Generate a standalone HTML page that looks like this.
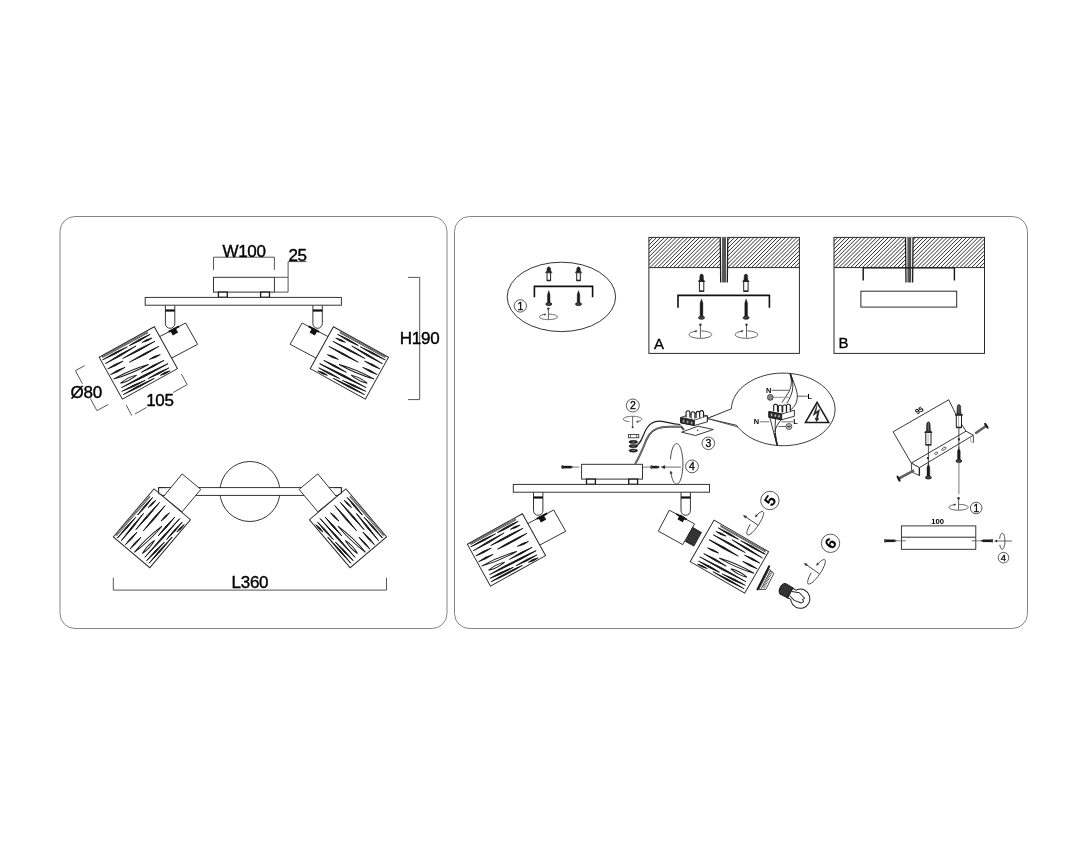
<!DOCTYPE html>
<html><head><meta charset="utf-8"><title>Installation diagram</title>
<style>
html,body{margin:0;padding:0;background:#fff;}
svg{display:block;will-change:transform;}
text{font-family:"Liberation Sans",sans-serif;fill:#000;}
</style></head>
<body>
<svg width="1088" height="846" viewBox="0 0 1088 846">
<rect x="0" y="0" width="1088" height="846" fill="#fff"/>
<defs><g id="shade">
<rect x="0" y="0" width="63" height="47.8" fill="#fff" stroke="#2a2a2a" stroke-width="0.95"/>
<line x1="2.7" y1="0.9" x2="54.9" y2="1.3" stroke="#2a2a2a" stroke-width="0.7"/>
<line x1="2.5" y1="1.9" x2="54.6" y2="2.2" stroke="#2a2a2a" stroke-width="0.7"/>
<path d="M1.8 3.9Q15.7 5.4 29.6 4.4Q15.7 2.8 1.8 3.9ZM32.3 4.4Q43.9 5.7 55.5 4.5Q43.9 3.1 32.3 4.4ZM2.4 8.6Q19.9 9.6 37.4 7.9Q19.9 7.0 2.4 8.6ZM45.0 7.8Q50.1 9.6 55.3 8.7Q50.3 7.0 45.0 7.8ZM20.2 12.5Q38.2 14.0 56.2 13.0Q38.2 11.4 20.2 12.5ZM2.0 14.3Q10.4 15.9 18.9 15.0Q10.5 13.3 2.0 14.3ZM24.2 19.0Q40.7 20.5 57.3 19.3Q40.7 17.9 24.2 19.0ZM1.7 20.6Q9.6 22.2 17.5 21.3Q9.7 19.6 1.7 20.6ZM42.9 26.2Q48.7 28.0 54.6 27.2Q48.9 25.4 42.9 26.2ZM29.6 33.6Q42.2 35.1 55.0 34.1Q42.3 32.5 29.6 33.6ZM4.9 37.3Q30.9 39.4 56.9 38.9Q31.0 36.8 4.9 37.3ZM3.4 40.8Q16.1 42.9 29.0 42.4Q16.2 40.3 3.4 40.8ZM32.4 42.4Q44.1 44.0 55.8 43.1Q44.1 41.4 32.4 42.4ZM3.0 44.3Q20.4 46.0 37.9 45.1Q20.5 43.4 3.0 44.3ZM44.8 45.4Q49.9 47.1 55.2 46.2Q50.1 44.5 44.8 45.4Z" fill="#161616" stroke="#161616" stroke-width="0.9" stroke-linejoin="round"/>
<path d="M1.9 26.0 Q20.5 30.3 39.6 30.2 Q21.0 25.9 1.9 26.0Z" fill="none" stroke="#1c1c1c" stroke-width="0.95"/>
<path d="M6.1 33.0 Q15.0 35.5 24.1 33.7 Q15.2 31.1 6.1 33.0Z" fill="none" stroke="#1c1c1c" stroke-width="0.95"/>
</g></defs>
<defs><g id="lampL">
<polygon points="158.9,337.0 185.6,323.0 197.6,344.3 171.2,358.3" fill="#fff" stroke="#2a2a2a" stroke-width="0.95" />
<use href="#shade" transform="translate(99.2,357.3) rotate(-29)"/>
<rect x="-3" y="-2.6" width="6" height="5.2" fill="#111" transform="translate(174.2,331.8) rotate(-29)"/>
<line x1="168.6" y1="331.9" x2="179.0" y2="326.4" stroke="#111" stroke-width="1.9" />
</g></defs>
<defs><g id="base">
<rect x="213.5" y="277.3" width="60.9" height="14.8" fill="#fff" stroke="#2a2a2a" stroke-width="0.95"/>
<rect x="218.4" y="292.1" width="8.9" height="5.2" fill="#fff" stroke="#1a1a1a" stroke-width="1.3"/>
<rect x="260.6" y="292.1" width="8.9" height="5.2" fill="#fff" stroke="#1a1a1a" stroke-width="1.3"/>
<path d="M165.4 305.2 V323.6 A4.7 4.7 0 0 0 174.8 323.6 V305.2" fill="#fff" stroke="#2a2a2a" stroke-width="0.95"/><line x1="165.4" y1="310.5" x2="174.8" y2="310.5" stroke="#111" stroke-width="2.2" />
<path d="M312.9 305.2 V323.6 A4.7 4.7 0 0 0 322.3 323.6 V305.2" fill="#fff" stroke="#2a2a2a" stroke-width="0.95"/><line x1="312.9" y1="310.5" x2="322.3" y2="310.5" stroke="#111" stroke-width="2.2" />
<rect x="145.2" y="297.4" width="196.2" height="7.8" fill="#fff" stroke="#2a2a2a" stroke-width="0.95"/>
</g></defs>
<rect x="60" y="216.5" width="387" height="412" rx="15" fill="none" stroke="#777" stroke-width="0.9"/>
<rect x="454.5" y="216.5" width="573" height="412" rx="15" fill="none" stroke="#777" stroke-width="0.9"/>
<use href="#base"/>
<use href="#lampL"/>
<use href="#lampL" transform="translate(487.7,0) scale(-1,1)"/>
<path d="M213.5 269.9 V257.2 H274.4 V269.9" fill="none" stroke="#444" stroke-width="0.9"/>
<text x="244.0" y="257.2" font-size="17" font-weight="normal" text-anchor="middle" stroke="#000" stroke-width="0.4" letter-spacing="-0.3">W100</text>
<path d="M274.4 277.3 H288.1 M274.4 292.1 H288.1 M288.1 292.1 V261.6 H306.5" fill="none" stroke="#444" stroke-width="0.9"/>
<text x="288.4" y="260.7" font-size="17" font-weight="normal" text-anchor="start" stroke="#000" stroke-width="0.4" letter-spacing="-0.3">25</text>
<path d="M408 277.4 H419.7 V399.6 H408" fill="none" stroke="#444" stroke-width="0.9"/>
<text x="419.6" y="344.2" font-size="17" font-weight="normal" text-anchor="middle" stroke="#000" stroke-width="0.4" letter-spacing="-0.3">H190</text>
<path d="M84.6 365.7 L75.4 370.6 L82.4 383.7 M90.3 398.4 L96.9 410.6 L108.4 404.5" fill="none" stroke="#444" stroke-width="0.9"/>
<text x="70.6" y="398.0" font-size="17" font-weight="normal" text-anchor="start" stroke="#000" stroke-width="0.4" letter-spacing="-0.3">Ø80</text>
<path d="M126.1 404.9 L131.9 415.6 M134.8 414.1 L146.6 407.4 M173.2 392.5 L187.2 384.6 L181.4 374.1" fill="none" stroke="#444" stroke-width="0.9"/>
<text x="146.2" y="406.0" font-size="17" font-weight="normal" text-anchor="start" stroke="#000" stroke-width="0.4" letter-spacing="-0.3">105</text>
<defs><g id="topL">
<polygon points="182.1,473.9 200.8,489.4 182.1,511.8 163.4,496.7" fill="#fff" stroke="#2a2a2a" stroke-width="0.95" />
<use href="#shade" transform="translate(113.3,536.9) rotate(-49.75)"/>
<path d="M166 487.6 H158.6 V493.5 L162.5 495.4" fill="none" stroke="#2a2a2a" stroke-width="0.95"/>
</g></defs>
<circle cx="249.9" cy="491.5" r="30" fill="none" stroke="#2a2a2a" stroke-width="0.95"/>
<rect x="158.6" y="487.6" width="182.8" height="7.8" fill="#fff" stroke="#2a2a2a" stroke-width="0.95"/>
<use href="#topL"/>
<use href="#topL" transform="translate(499.9,0) scale(-1,1)"/>
<path d="M113.3 577.7 V590.1 H386.5 V577.7" fill="none" stroke="#444" stroke-width="0.9"/>
<text x="249.9" y="588.3" font-size="17" font-weight="normal" text-anchor="middle" stroke="#000" stroke-width="0.4" letter-spacing="-0.3">L360</text>
<ellipse cx="561.4" cy="296.9" rx="54.2" ry="34.7" fill="none" stroke="#2a2a2a" stroke-width="0.95"/>
<path d="M547.2 267.9 Q548.8 265.7 550.4 267.9 L550.7 270.8 L552.1 272.8 L545.5 272.8 L546.9 270.8Z" fill="#222" stroke="#222" stroke-width="0.5"/><rect x="547.0" y="272.8" width="3.6" height="7.7" fill="#fff" stroke="#222" stroke-width="1"/><line x1="547.0" y1="280.5" x2="550.6" y2="280.5" stroke="#2a2a2a" stroke-width="1.6" />
<path d="M576.9 267.9 Q578.5 265.7 580.1 267.9 L580.4 270.8 L581.8 272.8 L575.2 272.8 L576.6 270.8Z" fill="#222" stroke="#222" stroke-width="0.5"/><rect x="576.7" y="272.8" width="3.6" height="7.7" fill="#fff" stroke="#222" stroke-width="1"/><line x1="576.7" y1="280.5" x2="580.3" y2="280.5" stroke="#2a2a2a" stroke-width="1.6" />
<path d="M534.4 297.2 V286.4 H592.6 V297.2" fill="none" stroke="#111" stroke-width="1.6"/>
<path d="M548.8 290.6 L550.0 294.6 V302.8 H547.5 V294.6Z" fill="#1a1a1a" stroke="#1a1a1a" stroke-width="0.4"/><ellipse cx="548.8" cy="304.1" rx="3.0" ry="1.5" fill="#444" stroke="#1a1a1a" stroke-width="0.8"/>
<path d="M578.5 290.6 L579.8 294.6 V302.8 H577.2 V294.6Z" fill="#1a1a1a" stroke="#1a1a1a" stroke-width="0.4"/><ellipse cx="578.5" cy="304.1" rx="3.0" ry="1.5" fill="#444" stroke="#1a1a1a" stroke-width="0.8"/>
<path d="M549.3 314.2 L550.4 314.3 L551.5 314.4 L552.5 314.5 L553.4 314.7 L554.3 314.8 L555.0 315.1 L555.7 315.3 L556.3 315.6 L556.8 315.9 L557.1 316.2 L557.3 316.5 L557.4 316.9 L557.4 317.2 L557.2 317.5 L556.9 317.8 L556.4 318.1 L555.9 318.4 L555.2 318.7 L554.5 318.9 L553.6 319.1 L552.7 319.3 L551.7 319.4 L550.7 319.5 L549.7 319.6 L548.6 319.6 L547.5 319.6 L546.4 319.5 L545.4 319.4 L544.4 319.3 L543.4 319.2 L542.6 319.0 L541.8 318.7 L541.1 318.5 L540.5 318.2 L540.1 317.9 L539.7 317.6 L539.5 317.3 L539.4 317.0 L539.4 316.6 L539.6 316.3 L539.9 316.0 L540.3 315.7 L540.9 315.4 L541.5 315.2 L542.3 314.9 L543.1 314.7 L544.0 314.5 L545.0 314.4" fill="none" stroke="#555" stroke-width="0.95" stroke-linejoin="round" stroke-linecap="round"/><path d="M546.0 313.9 L544.6 315.5 L543.8 313.9Z" fill="#444" stroke="#444" stroke-width="0.4"/><line x1="548.4" y1="308.6" x2="548.4" y2="319.6" stroke="#555" stroke-width="0.95" /><circle cx="548.4" cy="308.6" r="1.2" fill="#333"/>
<circle cx="520.3" cy="305.9" r="6.2" fill="#fff" stroke="#333" stroke-width="0.8"/><text x="520.3" y="309.7" font-size="10.5" font-weight="normal" stroke="#111" stroke-width="0.35" text-anchor="middle" >1</text>
<clipPath id="hA"><rect x="648.9" y="237.4" width="150.5" height="30.2"/></clipPath><path d="M618.7 267.6L648.9 237.4M622.6 267.6L652.8 237.4M626.5 267.6L656.7 237.4M630.4 267.6L660.6 237.4M634.3 267.6L664.5 237.4M638.2 267.6L668.4 237.4M642.1 267.6L672.3 237.4M646.0 267.6L676.2 237.4M649.9 267.6L680.1 237.4M653.8 267.6L684.0 237.4M657.7 267.6L687.9 237.4M661.6 267.6L691.8 237.4M665.5 267.6L695.7 237.4M669.4 267.6L699.6 237.4M673.3 267.6L703.5 237.4M677.2 267.6L707.4 237.4M681.1 267.6L711.3 237.4M685.0 267.6L715.2 237.4M688.9 267.6L719.1 237.4M692.8 267.6L723.0 237.4M696.7 267.6L726.9 237.4M700.6 267.6L730.8 237.4M704.5 267.6L734.7 237.4M708.4 267.6L738.6 237.4M712.3 267.6L742.5 237.4M716.2 267.6L746.4 237.4M720.1 267.6L750.3 237.4M724.0 267.6L754.2 237.4M727.9 267.6L758.1 237.4M731.8 267.6L762.0 237.4M735.7 267.6L765.9 237.4M739.6 267.6L769.8 237.4M743.5 267.6L773.7 237.4M747.4 267.6L777.6 237.4M751.3 267.6L781.5 237.4M755.2 267.6L785.4 237.4M759.1 267.6L789.3 237.4M763.0 267.6L793.2 237.4M766.9 267.6L797.1 237.4M770.8 267.6L801.0 237.4M774.7 267.6L804.9 237.4M778.6 267.6L808.8 237.4M782.5 267.6L812.7 237.4M786.4 267.6L816.6 237.4M790.3 267.6L820.5 237.4M794.2 267.6L824.4 237.4M798.1 267.6L828.3 237.4" clip-path="url(#hA)" stroke="#303030" stroke-width="1.0" fill="none"/>
<rect x="648.9" y="237.4" width="150.5" height="116" fill="none" stroke="#2a2a2a" stroke-width="1"/>
<line x1="648.9" y1="267.6" x2="799.4" y2="267.6" stroke="#2a2a2a" stroke-width="1" />
<rect x="720.2" y="237.4" width="7.6" height="45.0" fill="#fff"/><line x1="724.0" y1="237.4" x2="724.0" y2="282.4" stroke="#3c3c3c" stroke-width="3.7" /><line x1="723.4" y1="237.4" x2="723.4" y2="282.4" stroke="#808080" stroke-width="0.6" /><line x1="724.8" y1="237.4" x2="724.8" y2="282.4" stroke="#707070" stroke-width="0.5" /><line x1="720.2" y1="237.4" x2="720.7" y2="282.4" stroke="#1c1c1c" stroke-width="1.3" /><line x1="727.8" y1="237.4" x2="727.3" y2="282.4" stroke="#1c1c1c" stroke-width="1.3" />
<path d="M700.0 275.1 Q701.6 272.9 703.2 275.1 L703.5 279.5 L704.9 281.5 L698.3 281.5 L699.7 279.5Z" fill="#222" stroke="#222" stroke-width="0.5"/><rect x="699.4" y="281.5" width="4.4" height="9.7" fill="#fff" stroke="#222" stroke-width="1"/><line x1="699.4" y1="291.2" x2="703.8" y2="291.2" stroke="#2a2a2a" stroke-width="1.6" />
<path d="M744.3 275.1 Q745.9 272.9 747.5 275.1 L747.8 279.5 L749.2 281.5 L742.6 281.5 L744.0 279.5Z" fill="#222" stroke="#222" stroke-width="0.5"/><rect x="743.7" y="281.5" width="4.4" height="9.7" fill="#fff" stroke="#222" stroke-width="1"/><line x1="743.7" y1="291.2" x2="748.1" y2="291.2" stroke="#2a2a2a" stroke-width="1.6" />
<path d="M678 307.7 V295.4 H769.4 V307.7" fill="none" stroke="#111" stroke-width="1.6"/>
<path d="M701.5 298.9 L702.9 302.9 V316.4 H700.1 V302.9Z" fill="#1a1a1a" stroke="#1a1a1a" stroke-width="0.4"/><ellipse cx="701.5" cy="317.7" rx="3.0" ry="1.5" fill="#444" stroke="#1a1a1a" stroke-width="0.8"/>
<path d="M746.1 298.9 L747.5 302.9 V316.4 H744.8 V302.9Z" fill="#1a1a1a" stroke="#1a1a1a" stroke-width="0.4"/><ellipse cx="746.1" cy="317.7" rx="3.0" ry="1.5" fill="#444" stroke="#1a1a1a" stroke-width="0.8"/>
<path d="M701.6 330.9 L702.9 331.0 L704.2 331.1 L705.5 331.3 L706.7 331.5 L707.8 331.8 L708.7 332.1 L709.6 332.4 L710.3 332.8 L710.9 333.2 L711.3 333.7 L711.6 334.1 L711.7 334.5 L711.6 335.0 L711.4 335.4 L711.0 335.9 L710.5 336.3 L709.8 336.6 L709.0 337.0 L708.0 337.3 L707.0 337.6 L705.8 337.8 L704.6 338.0 L703.3 338.2 L702.0 338.3 L700.6 338.3 L699.3 338.3 L697.9 338.2 L696.6 338.1 L695.3 337.9 L694.2 337.7 L693.1 337.4 L692.1 337.1 L691.2 336.8 L690.5 336.4 L689.9 336.0 L689.5 335.6 L689.2 335.1 L689.1 334.7 L689.2 334.2 L689.4 333.8 L689.8 333.4 L690.3 332.9 L691.0 332.6 L691.8 332.2 L692.7 331.9 L693.8 331.6 L694.9 331.4 L696.2 331.2" fill="none" stroke="#555" stroke-width="0.95" stroke-linejoin="round" stroke-linecap="round"/><path d="M697.2 330.7 L695.7 332.3 L695.0 330.7Z" fill="#444" stroke="#444" stroke-width="0.4"/><line x1="700.4" y1="324.8" x2="700.4" y2="337.6" stroke="#555" stroke-width="0.95" /><circle cx="700.4" cy="324.8" r="1.2" fill="#333"/>
<path d="M747.7 330.9 L749.0 331.0 L750.3 331.1 L751.6 331.3 L752.8 331.5 L753.9 331.8 L754.8 332.1 L755.7 332.4 L756.4 332.8 L757.0 333.2 L757.4 333.7 L757.7 334.1 L757.8 334.5 L757.7 335.0 L757.5 335.4 L757.1 335.9 L756.6 336.3 L755.9 336.6 L755.1 337.0 L754.1 337.3 L753.1 337.6 L751.9 337.8 L750.7 338.0 L749.4 338.2 L748.1 338.3 L746.7 338.3 L745.4 338.3 L744.0 338.2 L742.7 338.1 L741.4 337.9 L740.3 337.7 L739.2 337.4 L738.2 337.1 L737.3 336.8 L736.6 336.4 L736.0 336.0 L735.6 335.6 L735.3 335.1 L735.2 334.7 L735.3 334.2 L735.5 333.8 L735.9 333.4 L736.4 332.9 L737.1 332.6 L737.9 332.2 L738.8 331.9 L739.9 331.6 L741.0 331.4 L742.3 331.2" fill="none" stroke="#555" stroke-width="0.95" stroke-linejoin="round" stroke-linecap="round"/><path d="M743.3 330.7 L741.8 332.3 L741.1 330.7Z" fill="#444" stroke="#444" stroke-width="0.4"/><line x1="746.5" y1="324.8" x2="746.5" y2="337.6" stroke="#555" stroke-width="0.95" /><circle cx="746.5" cy="324.8" r="1.2" fill="#333"/>
<text x="654.0" y="348.8" font-size="15" font-weight="normal" text-anchor="start" stroke="#000" stroke-width="0.3">A</text>
<clipPath id="hB"><rect x="834" y="237.4" width="150.5" height="30.2"/></clipPath><path d="M803.8 267.6L834.0 237.4M807.7 267.6L837.9 237.4M811.6 267.6L841.8 237.4M815.5 267.6L845.7 237.4M819.4 267.6L849.6 237.4M823.3 267.6L853.5 237.4M827.2 267.6L857.4 237.4M831.1 267.6L861.3 237.4M835.0 267.6L865.2 237.4M838.9 267.6L869.1 237.4M842.8 267.6L873.0 237.4M846.7 267.6L876.9 237.4M850.6 267.6L880.8 237.4M854.5 267.6L884.7 237.4M858.4 267.6L888.6 237.4M862.3 267.6L892.5 237.4M866.2 267.6L896.4 237.4M870.1 267.6L900.3 237.4M874.0 267.6L904.2 237.4M877.9 267.6L908.1 237.4M881.8 267.6L912.0 237.4M885.7 267.6L915.9 237.4M889.6 267.6L919.8 237.4M893.5 267.6L923.7 237.4M897.4 267.6L927.6 237.4M901.3 267.6L931.5 237.4M905.2 267.6L935.4 237.4M909.1 267.6L939.3 237.4M913.0 267.6L943.2 237.4M916.9 267.6L947.1 237.4M920.8 267.6L951.0 237.4M924.7 267.6L954.9 237.4M928.6 267.6L958.8 237.4M932.5 267.6L962.7 237.4M936.4 267.6L966.6 237.4M940.3 267.6L970.5 237.4M944.2 267.6L974.4 237.4M948.1 267.6L978.3 237.4M952.0 267.6L982.2 237.4M955.9 267.6L986.1 237.4M959.8 267.6L990.0 237.4M963.7 267.6L993.9 237.4M967.6 267.6L997.8 237.4M971.5 267.6L1001.7 237.4M975.4 267.6L1005.6 237.4M979.3 267.6L1009.5 237.4M983.2 267.6L1013.4 237.4" clip-path="url(#hB)" stroke="#303030" stroke-width="1.0" fill="none"/>
<rect x="834" y="237.4" width="150.5" height="116" fill="none" stroke="#2a2a2a" stroke-width="1"/>
<rect x="905.5" y="237.4" width="7.6" height="45.0" fill="#fff"/><line x1="909.3" y1="237.4" x2="909.3" y2="282.4" stroke="#3c3c3c" stroke-width="3.7" /><line x1="908.7" y1="237.4" x2="908.7" y2="282.4" stroke="#808080" stroke-width="0.6" /><line x1="910.1" y1="237.4" x2="910.1" y2="282.4" stroke="#707070" stroke-width="0.5" /><line x1="905.5" y1="237.4" x2="906.0" y2="282.4" stroke="#1c1c1c" stroke-width="1.3" /><line x1="913.1" y1="237.4" x2="912.6" y2="282.4" stroke="#1c1c1c" stroke-width="1.3" />
<path d="M863.2 280.4 V267.8 H954.4 V280.4" fill="none" stroke="#111" stroke-width="1.4"/>
<line x1="834.0" y1="267.6" x2="984.5" y2="267.6" stroke="#2a2a2a" stroke-width="1" />
<rect x="860.9" y="291.2" width="95.8" height="15.9" fill="#fff" stroke="#2a2a2a" stroke-width="1"/>
<text x="838.4" y="348.4" font-size="15" font-weight="normal" text-anchor="start" stroke="#000" stroke-width="0.3">B</text>
<use href="#base" transform="translate(368.1,187.0)"/>
<use href="#lampL" transform="translate(368.1,187.0)"/>
<polygon points="669.3,510.2 694.6,523.9 682.7,544.6 658.3,531.1" fill="#fff" stroke="#2a2a2a" stroke-width="0.95" />
<rect x="-3" y="-2.7" width="6" height="5.4" fill="#111" transform="translate(681.4,518.4) rotate(29)"/>
<line x1="676.3" y1="514.0" x2="686.6" y2="519.6" stroke="#111" stroke-width="1.9" />
<polygon points="692.6,527.3 701.5,532.5 693.9,546.1 685.5,541.5" fill="#2a2a2a" stroke="#1a1a1a" stroke-width="0.8" />
<line x1="691.4" y1="529.7" x2="700.2" y2="534.8" stroke="#666" stroke-width="0.5" /><line x1="690.2" y1="532.0" x2="699.0" y2="537.0" stroke="#666" stroke-width="0.5" /><line x1="689.0" y1="534.4" x2="697.7" y2="539.3" stroke="#666" stroke-width="0.5" /><line x1="687.9" y1="536.8" x2="696.4" y2="541.6" stroke="#666" stroke-width="0.5" /><line x1="686.7" y1="539.1" x2="695.2" y2="543.8" stroke="#666" stroke-width="0.5" />
<use href="#shade" transform="translate(768.6,551.7) scale(-1,1) rotate(-30)"/>
<polygon points="769.1,569.2 773.9,573.3 765.8,589.5 758.8,589.6" fill="#fff" stroke="#222" stroke-width="0.8" />
<line x1="770.5" y1="570.2" x2="760.8" y2="589.6" stroke="#222" stroke-width="0.7" />
<line x1="770.0" y1="571.3" x2="772.5" y2="572.9" stroke="#222" stroke-width="0.75" /><line x1="769.3" y1="572.7" x2="771.8" y2="574.3" stroke="#222" stroke-width="0.75" /><line x1="768.6" y1="574.1" x2="771.1" y2="575.7" stroke="#222" stroke-width="0.75" /><line x1="767.9" y1="575.5" x2="770.4" y2="577.1" stroke="#222" stroke-width="0.75" /><line x1="767.2" y1="576.9" x2="769.7" y2="578.5" stroke="#222" stroke-width="0.75" /><line x1="766.5" y1="578.2" x2="769.1" y2="579.9" stroke="#222" stroke-width="0.75" /><line x1="765.8" y1="579.6" x2="768.4" y2="581.2" stroke="#222" stroke-width="0.75" /><line x1="765.1" y1="581.0" x2="767.7" y2="582.6" stroke="#222" stroke-width="0.75" /><line x1="764.4" y1="582.4" x2="767.0" y2="584.0" stroke="#222" stroke-width="0.75" /><line x1="763.7" y1="583.8" x2="766.3" y2="585.4" stroke="#222" stroke-width="0.75" /><line x1="763.0" y1="585.2" x2="765.6" y2="586.8" stroke="#222" stroke-width="0.75" /><line x1="762.3" y1="586.6" x2="764.9" y2="588.2" stroke="#222" stroke-width="0.75" />
<line x1="769.1" y1="566.4" x2="757.6" y2="589.3" stroke="#1a1a1a" stroke-width="2.1" stroke-linecap="round"/>
<g transform="translate(800.3,598.7) rotate(28.7)"><circle cx="0" cy="0" r="9.6" fill="#fff" stroke="#222" stroke-width="1.0"/><path d="M-12 -5.6 L-8.2 -5.0 M-12 5.2 L-8.4 4.7" stroke="#222" stroke-width="0.9" fill="none"/><rect x="-12.2" y="-5.4" width="4.6" height="10.4" fill="#fff" stroke="none"/><path d="M-12 -5.6 L-7.9 -5.4 M-12 5.2 L-8.1 5.1" stroke="#222" stroke-width="0.9" fill="none"/><path d="M-11.6 -5.9 L-20.5 -6.1 Q-23.0 -4.5 -23.0 0 Q-22.8 4.2 -20.0 5.5 L-11.6 5.4 Z" fill="#2b2b2b" stroke="#1a1a1a" stroke-width="1.1" stroke-linejoin="round"/><path d="M-14 -5.6 V5.2 M-16.3 -5.8 V5.3 M-18.6 -5.9 V5.4 M-20.9 -5.6 V5.0" stroke="#5a5a5a" stroke-width="0.5" fill="none"/><path d="M-11 -2.2 L-3.7 -4.8 L3.6 -2.5 L2.3 -0.3 L4.4 0.9 L2.8 3.4 L-4.5 4.4 L-11 2.4" fill="none" stroke="#222" stroke-width="0.9" stroke-linejoin="round"/></g>
<path d="M750.0 524.6 L749.1 526.2 L748.4 527.8 L747.8 529.2 L747.3 530.6 L747.0 531.8 L746.8 532.8 L746.8 533.6 L747.0 534.3 L747.3 534.7 L747.8 535.0 L748.4 535.0 L749.1 534.7 L750.0 534.3 L750.9 533.6 L752.0 532.8 L753.1 531.7 L754.2 530.5 L755.4 529.2 L756.5 527.7 L757.6 526.2 L758.7 524.6 L759.7 522.9 L760.7 521.3 L761.5 519.7 L762.2 518.2 L762.8 516.8 L763.2 515.5 L763.5 514.3 L763.6 513.3 L763.6 512.5 L763.4 512.0 L763.0 511.6 L762.5 511.4 L761.8 511.5 L761.1 511.8 L760.2 512.3 L759.2 513.0 L758.1 513.9 L757.0 515.0 L755.9 516.3" fill="none" stroke="#333" stroke-width="0.9" stroke-linejoin="round" stroke-linecap="round"/>
<path d="M755.3 517.1 L755.8 514.6 L757.5 515.9Z" fill="#333" stroke="#333" stroke-width="0.4"/>
<line x1="758.0" y1="525.1" x2="743.6" y2="515.6" stroke="#333" stroke-width="0.9" />
<path d="M743.6 515.6 L746.6 516.1 L745.2 518.2Z" fill="#333" stroke="#333" stroke-width="0.4"/>
<path d="M811.0 573.2 L810.1 574.9 L809.3 576.5 L808.7 578.0 L808.2 579.4 L807.8 580.6 L807.7 581.7 L807.6 582.6 L807.8 583.3 L808.1 583.8 L808.6 584.0 L809.3 584.0 L810.0 583.8 L810.9 583.3 L812.0 582.6 L813.0 581.8 L814.2 580.7 L815.4 579.4 L816.6 578.1 L817.9 576.5 L819.1 574.9 L820.2 573.3 L821.3 571.6 L822.3 569.9 L823.1 568.3 L823.9 566.7 L824.5 565.2 L824.9 563.8 L825.2 562.6 L825.4 561.6 L825.3 560.8 L825.1 560.1 L824.7 559.7 L824.2 559.6 L823.5 559.6 L822.7 559.9 L821.8 560.4 L820.7 561.2 L819.6 562.1 L818.4 563.3 L817.2 564.5" fill="none" stroke="#333" stroke-width="0.9" stroke-linejoin="round" stroke-linecap="round"/>
<path d="M816.6 565.4 L817.2 562.9 L818.8 564.2Z" fill="#333" stroke="#333" stroke-width="0.4"/>
<line x1="819.4" y1="573.8" x2="804.4" y2="563.4" stroke="#333" stroke-width="0.9" />
<path d="M804.4 563.4 L807.4 564.0 L806.0 566.0Z" fill="#333" stroke="#333" stroke-width="0.4"/>
<circle cx="769.9" cy="500.5" r="9.2" fill="#fff" stroke="#333" stroke-width="0.8"/><text x="769.9" y="506.1" font-size="15.5" font-weight="bold" stroke="#111" stroke-width="0.15" text-anchor="middle" transform="rotate(-55 769.9 500.5)">5</text>
<circle cx="830.5" cy="543.3" r="9.2" fill="#fff" stroke="#333" stroke-width="0.8"/><text x="830.5" y="548.9" font-size="15.5" font-weight="bold" stroke="#111" stroke-width="0.15" text-anchor="middle" transform="rotate(-55 830.5 543.3)">6</text>
<rect x="562.5" y="465.8" width="8.5" height="2.6" fill="#1a1a1a"/><path d="M571.0 465.8 L573.2 467.1 L571.0 468.4Z" fill="#1a1a1a"/><ellipse cx="562.5" cy="467.1" rx="1.0" ry="2.0" fill="#444"/>
<line x1="571.0" y1="467.1" x2="579.5" y2="467.1" stroke="#555" stroke-width="0.8" />
<path d="M561.0 467.1 L563.4 466.0 L563.4 468.2Z" fill="#222" stroke="#222" stroke-width="0.4"/>
<line x1="642.5" y1="467.1" x2="651.3" y2="467.1" stroke="#555" stroke-width="0.8" />
<rect x="651.3" y="465.8" width="6.5" height="2.6" fill="#1a1a1a"/><path d="M657.8 465.8 L660.0 467.1 L657.8 468.4Z" fill="#1a1a1a"/><ellipse cx="651.3" cy="467.1" rx="1.0" ry="2.0" fill="#444"/>
<line x1="663.0" y1="467.1" x2="681.0" y2="467.1" stroke="#444" stroke-width="0.8" />
<path d="M661.2 467.1 L664.8 465.5 L664.8 468.7Z" fill="#222" stroke="#222" stroke-width="0.4"/>
<path d="M670.5 459.0 L670.7 457.2 L670.9 455.4 L671.1 453.7 L671.5 452.1 L671.8 450.6 L672.2 449.2 L672.7 448.0 L673.2 446.9 L673.7 445.9 L674.2 445.1 L674.8 444.5 L675.3 444.0 L675.9 443.7 L676.5 443.6 L677.1 443.7 L677.7 443.9 L678.3 444.3 L678.8 444.9 L679.4 445.6 L679.9 446.6 L680.4 447.6 L680.8 448.8 L681.2 450.2 L681.6 451.6 L682.0 453.2 L682.2 454.9 L682.5 456.6 L682.7 458.4 L682.8 460.2 L682.9 462.1 L682.9 464.0 L682.9 465.9 L682.8 467.8 L682.6 469.7 L682.4 471.4 L682.2 473.2 L681.9 474.8 L681.6 476.4 L681.2 477.8 L680.8 479.1 L680.3 480.3 L679.8 481.4 L679.3 482.3 L678.7 483.0 L678.2 483.6 L677.6 483.9 L677.0 484.2 L676.4 484.2 L675.8 484.1 L675.3 483.7 L674.7 483.2 L674.1 482.6 L673.6 481.8 L673.1 480.8 L672.6 479.6 L672.2 478.4 L671.8 477.0 L671.4 475.5 L671.1 473.9 L670.8 472.2" fill="none" stroke="#333" stroke-width="0.9" stroke-linejoin="round" stroke-linecap="round"/>
<path d="M670.7 471.0 L672.3 473.4 L670.0 473.7Z" fill="#333" stroke="#333" stroke-width="0.4"/>
<circle cx="692.0" cy="466.4" r="6.4" fill="#fff" stroke="#333" stroke-width="0.8"/><text x="692.0" y="470.2" font-size="10.5" font-weight="normal" stroke="#111" stroke-width="0.35" text-anchor="middle" >4</text>
<circle cx="632.8" cy="405.5" r="6.5" fill="#fff" stroke="#333" stroke-width="0.8"/><text x="632.8" y="409.3" font-size="10.5" font-weight="normal" stroke="#111" stroke-width="0.35" text-anchor="middle" >2</text>
<path d="M629.4 421.7 L628.2 421.6 L627.2 421.4 L626.2 421.1 L625.4 420.9 L624.6 420.6 L624.1 420.2 L623.6 419.9 L623.4 419.5 L623.3 419.1 L623.4 418.7 L623.6 418.4 L624.0 418.0 L624.6 417.7 L625.3 417.4 L626.1 417.1 L627.1 416.8 L628.1 416.6 L629.3 416.5 L630.5 416.4 L631.7 416.3 L632.9 416.3 L634.2 416.3 L635.4 416.4 L636.5 416.6 L637.6 416.8 L638.6 417.0 L639.5 417.3 L640.2 417.6 L640.8 417.9 L641.3 418.3 L641.6 418.6 L641.7 419.0 L641.7 419.4 L641.4 419.8 L641.1 420.1 L640.5 420.5 L639.9 420.8 L639.1 421.1 L638.1 421.3 L637.1 421.5" fill="none" stroke="#555" stroke-width="0.9"/>
<line x1="632.6" y1="416.6" x2="632.6" y2="427.0" stroke="#555" stroke-width="0.9" />
<circle cx="632.6" cy="427.2" r="1" fill="#333"/>
<path d="M636.2 421.9 L638.0 420.7 L638.3 422.5Z" fill="#444" stroke="#444" stroke-width="0.4"/>
<rect x="628.4" y="434.6" width="10.4" height="3.2" fill="#fff" stroke="#222" stroke-width="0.8"/>
<line x1="630.5" y1="434.6" x2="630.5" y2="437.8" stroke="#222" stroke-width="0.6" />
<line x1="636.7" y1="434.6" x2="636.7" y2="437.8" stroke="#222" stroke-width="0.6" />
<ellipse cx="633.3" cy="441.9" rx="4.3" ry="1.55" fill="#222" stroke="#111" stroke-width="0.5"/>
<ellipse cx="633.3" cy="441.9" rx="2.0" ry="0.5" fill="#777"/>
<ellipse cx="633.3" cy="446.1" rx="4.3" ry="1.55" fill="#222" stroke="#111" stroke-width="0.5"/>
<ellipse cx="633.3" cy="446.1" rx="2.0" ry="0.5" fill="#777"/>
<ellipse cx="633.3" cy="450.6" rx="4.3" ry="1.55" fill="#222" stroke="#111" stroke-width="0.5"/>
<ellipse cx="633.3" cy="450.6" rx="2.0" ry="0.5" fill="#777"/>
<path d="M635.2 446.2 C641.5 444 642.5 436 646 429.5 C650 422 656 420.6 662 421.3 C668 422 672 424.6 680.4 424.5" fill="none" stroke="#222" stroke-width="1.2"/>
<path d="M635.0 464.0 C640 456 643 448 646.5 439.5 C650 431 655 428.2 662 427.2 C668 426.6 674 426.5 681 426.4 L684 429.8" fill="none" stroke="#444" stroke-width="2.0"/>
<path d="M635.0 464.0 C640 456 643 448 646.5 439.5 C650 431 655 428.2 662 427.2 C668 426.6 674 426.5 681 426.4" fill="none" stroke="#bbb" stroke-width="0.5"/>
<polygon points="681.6,432.2 698.1,426.2 713.3,429.5 695.5,435.5" fill="#fff" stroke="#222" stroke-width="0.9" />
<circle cx="697.7" cy="430.2" r="0.7" fill="#222"/>
<polygon points="680.7,417.5 694.0,413.2 707.4,415.8 707.4,421.8 694.4,425.5 680.7,422.8" fill="#fff" stroke="#222" stroke-width="0.9" />
<polygon points="680.7,417.5 694.4,420.2 694.4,425.5 680.7,422.8" fill="#333" stroke="#1a1a1a" stroke-width="0.9" />
<line x1="694.4" y1="420.2" x2="707.4" y2="415.8" stroke="#2a2a2a" stroke-width="0.8" />
<ellipse cx="683.6" cy="421.2" rx="1.3" ry="1.6" fill="#aaa" stroke="#111" stroke-width="0.5"/>
<ellipse cx="687.6" cy="422.0" rx="1.3" ry="1.6" fill="#aaa" stroke="#111" stroke-width="0.5"/>
<ellipse cx="691.6" cy="422.8" rx="1.3" ry="1.6" fill="#aaa" stroke="#111" stroke-width="0.5"/>
<path d="M686.1 417.4 V412.0 Q688.0 409.6 689.9 412.0 V417.4" fill="#fff" stroke="#1a1a1a" stroke-width="1.1"/>
<path d="M691.1 418.4 V413.0 Q693.0 410.6 694.9 413.0 V418.4" fill="#fff" stroke="#1a1a1a" stroke-width="1.1"/>
<path d="M696.1 418.0 V412.6 Q698.0 410.2 699.9 412.6 V418.0" fill="#fff" stroke="#1a1a1a" stroke-width="1.1"/>
<path d="M699.7 417.2 V411.8 Q701.6 409.4 703.5 411.8 V417.2" fill="#fff" stroke="#1a1a1a" stroke-width="1.1"/>
<line x1="707.8" y1="418.2" x2="733.0" y2="409.5" stroke="#333" stroke-width="0.8" />
<line x1="707.8" y1="418.6" x2="738.0" y2="427.0" stroke="#333" stroke-width="0.8" />
<circle cx="708.3" cy="443.3" r="6.3" fill="#fff" stroke="#333" stroke-width="0.8"/><text x="708.3" y="447.1" font-size="10.5" font-weight="normal" stroke="#111" stroke-width="0.35" text-anchor="middle" >3</text>
<path d="M708.0 418.2 L731.4 408.8 L731.6 406.4 L732.0 404.1 L732.6 401.8 L733.4 399.5 L734.4 397.3 L735.6 395.1 L737.0 393.0 L738.6 390.9 L740.4 388.9 L742.4 387.1 L744.5 385.3 L746.8 383.6 L749.3 382.0 L751.9 380.5 L754.6 379.1 L757.5 377.9 L760.4 376.8 L763.5 375.8 L766.6 375.0 L769.8 374.3 L773.0 373.8 L776.3 373.4 L779.7 373.2 L783.0 373.1 L786.4 373.2 L789.7 373.4 L793.0 373.8 L796.3 374.3 L799.5 374.9 L802.6 375.7 L805.7 376.7 L808.6 377.8 L811.5 379.0 L814.2 380.3 L816.8 381.8 L819.3 383.4 L821.6 385.1 L823.8 386.9 L825.8 388.7 L827.6 390.7 L829.2 392.8 L830.7 394.9 L831.9 397.0 L832.9 399.3 L833.8 401.5 L834.4 403.8 L834.8 406.2 L835.0 408.5 L835.0 410.9 L834.7 413.2 L834.3 415.5 L833.6 417.8 L832.7 420.1 L831.6 422.3 L830.3 424.5 L828.9 426.6 L827.2 428.6 L825.3 430.5 L823.3 432.4 L821.1 434.2 L818.7 435.8 L816.2 437.4 L813.6 438.8 L810.8 440.1 L807.9 441.3 L804.9 442.4 L801.8 443.3 L798.7 444.0 L795.5 444.7 L792.2 445.1 L788.9 445.5 L785.5 445.7 L782.2 445.7 L778.9 445.6 L775.5 445.3 L772.3 444.9 L769.0 444.3 L765.8 443.6 L762.7 442.7 L759.7 441.7 L756.8 440.6 L753.9 439.4 L751.2 438.0 L748.7 436.5 L746.3 434.8 L744.0 433.1 L741.9 431.3 L740.0 429.4 L738.2 427.4 L736.6 425.3 L708.0 418.7" fill="#fff" stroke="#222" stroke-width="0.9" stroke-linejoin="round"/>
<line x1="707.4" y1="415.8" x2="707.4" y2="421.8" stroke="#2a2a2a" stroke-width="0.9" />
<path d="M790.2 373.6 C792.6 382 791 389 787.8 393.6 C785.5 397.5 783.5 400 782.0 402.6" fill="none" stroke="#222" stroke-width="0.9"/>
<path d="M790.7 373.6 C793.6 383 793.2 389 791.4 394 C790 398 788.4 400.6 786.8 403.2" fill="none" stroke="#222" stroke-width="0.9"/>
<path d="M791.1 375.5 C794.6 385 797.6 391 797.3 397 C797 403 794.5 407 790.4 410" fill="none" stroke="#222" stroke-width="0.9"/>
<line x1="790.0" y1="373.3" x2="792.6" y2="381.5" stroke="#222" stroke-width="1.5" />
<text x="766.0" y="392.8" font-weight="bold" font-size="7.4">N</text>
<line x1="771.6" y1="390.3" x2="788.9" y2="390.3" stroke="#333" stroke-width="0.8" />
<line x1="773.4" y1="397.3" x2="789.4" y2="397.3" stroke="#999" stroke-width="1.1" />
<circle cx="770.3" cy="397.4" r="2.9" fill="#8a8a8a" stroke="#333" stroke-width="0.8"/>
<text x="807.6" y="398.9" font-weight="bold" font-size="7.4">L</text>
<line x1="797.4" y1="396.2" x2="807.8" y2="396.2" stroke="#333" stroke-width="0.8" />
<path d="M769.9 417.6 L776.9 445.2 M775.5 419 C774.6 428 775.4 438 777.5 445.2 M781.2 419.6 C777.6 424 775.3 428 774.8 432" fill="none" stroke="#222" stroke-width="0.9"/>
<line x1="774.6" y1="433.0" x2="777.2" y2="445.2" stroke="#222" stroke-width="1.4" />
<polygon points="768.9,411.6 781.7,414.0 794.4,410.2 794.4,416.3 781.7,419.7 768.9,417.3" fill="#fff" stroke="#222" stroke-width="0.9" />
<polygon points="768.9,411.6 781.7,414.0 781.7,419.7 768.9,417.3" fill="#2e2e2e" stroke="#1a1a1a" stroke-width="0.9" />
<ellipse cx="771.6" cy="414.9" rx="1.2" ry="1.7" fill="#bbb" stroke="#111" stroke-width="0.5"/>
<ellipse cx="775.3" cy="415.6" rx="1.2" ry="1.7" fill="#bbb" stroke="#111" stroke-width="0.5"/>
<ellipse cx="779.0" cy="416.3" rx="1.2" ry="1.7" fill="#bbb" stroke="#111" stroke-width="0.5"/>
<path d="M773.7 411.6 V405.4 Q775.6 402.8 777.5 405.4 V411.6" fill="#fff" stroke="#1a1a1a" stroke-width="1.15"/>
<path d="M778.3 412.5 V406.3 Q780.2 403.7 782.1 406.3 V412.5" fill="#fff" stroke="#1a1a1a" stroke-width="1.15"/>
<path d="M782.7 412.2 V406.0 Q784.6 403.4 786.5 406.0 V412.2" fill="#fff" stroke="#1a1a1a" stroke-width="1.15"/>
<path d="M786.5 411.5 V405.3 Q788.4 402.7 790.3 405.3 V411.5" fill="#fff" stroke="#1a1a1a" stroke-width="1.15"/>
<text x="753.7" y="424.4" font-weight="bold" font-size="7.4">N</text>
<line x1="759.6" y1="421.8" x2="769.3" y2="421.8" stroke="#777" stroke-width="1.0" />
<line x1="781.4" y1="421.8" x2="793.0" y2="421.8" stroke="#777" stroke-width="1.0" />
<text x="793.3" y="424.4" font-weight="bold" font-size="7.4">L</text>
<line x1="778.4" y1="426.5" x2="786.0" y2="426.5" stroke="#444" stroke-width="0.8" />
<circle cx="788.9" cy="426.5" r="3.0" fill="#ddd" stroke="#333" stroke-width="0.8"/>
<line x1="786.8" y1="426.5" x2="791.0" y2="426.5" stroke="#222" stroke-width="0.8" />
<line x1="787.4" y1="425.2" x2="790.4" y2="425.2" stroke="#222" stroke-width="0.5" />
<line x1="787.6" y1="427.8" x2="790.2" y2="427.8" stroke="#222" stroke-width="0.5" />
<polygon points="817.1,402.3 828.8,422.6 805.4,422.6" fill="#fff" stroke="#1a1a1a" stroke-width="1.5" stroke-linejoin="miter"/>
<path d="M817.0 405.2 L813.2 415.6 L817.4 412.6 L816.2 418.4 L814.9 418.0 L816.6 421.6 L818.9 418.6 L817.6 418.6 L819.6 409.6 L815.8 412.2 Z" fill="#222" stroke="#222" stroke-width="0.5"/>
<path d="M911.3 463.1 L893.1 431.8 L948.7 399.8" fill="none" stroke="#222" stroke-width="0.9" stroke-linejoin="round" stroke-linecap="round"/>
<path d="M948.7 399.8 C953 408 957 418 966.0 431.2" fill="none" stroke="#222" stroke-width="0.9"/>
<text x="919.2" y="413.0" font-size="7.6" font-weight="bold" text-anchor="middle" transform="rotate(-30 919.2 410.3)">95</text>
<polygon points="911.3,463.1 966.0,431.2 973.4,435.2 919.4,467.7" fill="#fff" stroke="#222" stroke-width="0.9" />
<polygon points="911.3,463.1 919.4,467.7 919.4,475.6 911.7,472.0" fill="#fff" stroke="#333" stroke-width="0.9" />

<path d="M973.4 435.2 L973.4 442.6 L970.6 441.4 L970.6 438.5" fill="none" stroke="#999" stroke-width="0.8" stroke-linejoin="round" stroke-linecap="round"/>
<line x1="973.4" y1="435.2" x2="973.4" y2="442.6" stroke="#555" stroke-width="0.9" />
<line x1="919.4" y1="468.0" x2="919.4" y2="475.6" stroke="#222" stroke-width="1.3" />
<ellipse cx="936.2" cy="453.3" rx="1.7" ry="1.0" fill="#fff" stroke="#333" stroke-width="0.7" transform="rotate(-30 936.2 453.3)"/>
<ellipse cx="943.9" cy="448.8" rx="2.5" ry="1.1" fill="#fff" stroke="#333" stroke-width="0.7" transform="rotate(-30 943.9 448.8)"/>
<line x1="928.4" y1="445.0" x2="928.4" y2="464.0" stroke="#222" stroke-width="0.8" />
<line x1="958.9" y1="427.6" x2="958.9" y2="448.0" stroke="#222" stroke-width="0.8" />
<path d="M926.8 423.2 Q928.4 420.5 930.0 423.2 L930.4 430.9 L932.0 432.3 L924.8 432.3 L926.4 430.9Z" fill="#333" stroke="#222" stroke-width="0.6"/><line x1="928.4" y1="422.7" x2="928.4" y2="430.7" stroke="#999" stroke-width="0.6" /><rect x="925.8" y="432.5" width="5.2" height="12.2" fill="#fff" stroke="#222" stroke-width="1"/><line x1="928.1" y1="433.7" x2="928.1" y2="443.7" stroke="#777" stroke-width="0.6" /><line x1="925.6" y1="444.9" x2="931.2" y2="444.9" stroke="#2a2a2a" stroke-width="1.5" /><line x1="924.6" y1="432.3" x2="932.2" y2="432.3" stroke="#2a2a2a" stroke-width="1.3" />
<path d="M957.3 405.8 Q958.9 403.1 960.5 405.8 L960.9 413.5 L962.5 414.9 L955.3 414.9 L956.9 413.5Z" fill="#333" stroke="#222" stroke-width="0.6"/><line x1="958.9" y1="405.3" x2="958.9" y2="413.3" stroke="#999" stroke-width="0.6" /><rect x="956.3" y="415.1" width="5.2" height="12.2" fill="#fff" stroke="#222" stroke-width="1"/><line x1="958.6" y1="416.3" x2="958.6" y2="426.3" stroke="#777" stroke-width="0.6" /><line x1="956.1" y1="427.5" x2="961.7" y2="427.5" stroke="#2a2a2a" stroke-width="1.5" /><line x1="955.1" y1="414.9" x2="962.7" y2="414.9" stroke="#2a2a2a" stroke-width="1.3" />
<circle cx="927.9" cy="458.2" r="1.1" fill="#222"/>
<circle cx="958.9" cy="439.4" r="1.1" fill="#222"/>
<path d="M928.4 463.4 L929.8 467.4 V476.2 H927.0 V467.4Z" fill="#1a1a1a" stroke="#1a1a1a" stroke-width="0.4"/><ellipse cx="928.4" cy="477.5" rx="3.0" ry="1.5" fill="#444" stroke="#1a1a1a" stroke-width="0.8"/>
<path d="M958.9 447.3 L960.2 451.3 V459.6 H957.5 V451.3Z" fill="#1a1a1a" stroke="#1a1a1a" stroke-width="0.4"/><ellipse cx="958.9" cy="460.9" rx="3.0" ry="1.5" fill="#444" stroke="#1a1a1a" stroke-width="0.8"/>
<line x1="958.9" y1="462.6" x2="958.9" y2="494.2" stroke="#666" stroke-width="0.9" />
<line x1="898.6" y1="478.6" x2="914.0" y2="470.4" stroke="#555" stroke-width="2.4" /><line x1="898.6" y1="478.6" x2="914.0" y2="470.4" stroke="#999" stroke-width="0.6" stroke-dasharray="0.8 0.8"/><ellipse cx="898.6" cy="478.6" rx="1.2" ry="3.4" fill="#1a1a1a" transform="rotate(-28.0 898.6 478.6)"/>
<line x1="986.4" y1="425.8" x2="975.2" y2="433.4" stroke="#555" stroke-width="2.4" /><line x1="986.4" y1="425.8" x2="975.2" y2="433.4" stroke="#999" stroke-width="0.6" stroke-dasharray="0.8 0.8"/><ellipse cx="986.4" cy="425.8" rx="1.2" ry="3.4" fill="#1a1a1a" transform="rotate(145.8 986.4 425.8)"/>
<path d="M959.6 504.4 L960.7 504.5 L961.9 504.6 L962.9 504.7 L963.9 504.9 L964.8 505.1 L965.7 505.3 L966.4 505.6 L967.0 505.9 L967.5 506.2 L967.9 506.6 L968.1 506.9 L968.2 507.2 L968.1 507.6 L968.0 507.9 L967.6 508.3 L967.2 508.6 L966.6 508.9 L965.9 509.2 L965.1 509.4 L964.2 509.7 L963.2 509.8 L962.2 510.0 L961.1 510.1 L959.9 510.2 L958.8 510.2 L957.6 510.2 L956.5 510.1 L955.4 510.0 L954.3 509.9 L953.3 509.7 L952.4 509.5 L951.5 509.3 L950.8 509.0 L950.2 508.7 L949.7 508.4 L949.3 508.1 L949.1 507.7 L949.0 507.4 L949.0 507.0 L949.2 506.7 L949.6 506.3 L950.0 506.0 L950.6 505.7 L951.3 505.4 L952.1 505.2 L953.0 504.9 L954.0 504.8 L955.0 504.6" fill="none" stroke="#555" stroke-width="0.95" stroke-linejoin="round" stroke-linecap="round"/><path d="M956.0 504.1 L954.5 505.8 L953.8 504.1Z" fill="#444" stroke="#444" stroke-width="0.4"/><line x1="958.6" y1="498.2" x2="958.6" y2="509.8" stroke="#555" stroke-width="0.95" /><circle cx="958.6" cy="498.2" r="1.2" fill="#333"/>
<circle cx="976.2" cy="508.0" r="5.8" fill="#fff" stroke="#333" stroke-width="0.8"/><text x="976.2" y="511.6" font-size="10" font-weight="normal" stroke="#111" stroke-width="0.35" text-anchor="middle" >1</text>
<text x="937.7" y="523.9" font-size="7.7" font-weight="bold" text-anchor="middle">100</text>
<rect x="901.4" y="525.9" width="74.4" height="23.4" fill="#fff" stroke="#222" stroke-width="0.9"/>
<line x1="901.4" y1="537.2" x2="975.8" y2="537.2" stroke="#2a2a2a" stroke-width="1.0" />
<line x1="901.4" y1="540.8" x2="905.8" y2="540.8" stroke="#444" stroke-width="0.8" />
<line x1="971.8" y1="540.8" x2="975.8" y2="540.8" stroke="#444" stroke-width="0.8" />
<rect x="885.0" y="539.5" width="9.8" height="2.6" fill="#1a1a1a"/><path d="M894.8 539.5 L897.0 540.8 L894.8 542.1Z" fill="#1a1a1a"/><ellipse cx="885.0" cy="540.8" rx="1.0" ry="2.0" fill="#444"/>
<line x1="894.8" y1="540.8" x2="901.4" y2="540.8" stroke="#666" stroke-width="0.8" />
<line x1="975.8" y1="540.8" x2="983.0" y2="540.8" stroke="#666" stroke-width="0.8" />
<rect x="982.8" y="539.5" width="9.4" height="2.6" fill="#1a1a1a"/><path d="M982.8 539.5 L980.6 540.8 L982.8 542.1Z" fill="#1a1a1a"/><ellipse cx="992.2" cy="540.8" rx="1.0" ry="2.0" fill="#444"/>
<path d="M999.7 538.5 L999.8 537.5 L1000.0 536.6 L1000.2 535.7 L1000.5 535.0 L1000.8 534.4 L1001.1 533.9 L1001.5 533.5 L1001.8 533.3 L1002.2 533.2 L1002.6 533.3 L1002.9 533.5 L1003.3 533.8 L1003.6 534.3 L1003.9 534.9 L1004.2 535.7 L1004.4 536.5 L1004.6 537.4 L1004.7 538.4 L1004.8 539.4 L1004.9 540.5 L1004.9 541.6 L1004.9 542.7 L1004.8 543.7 L1004.6 544.7 L1004.4 545.6 L1004.2 546.5 L1004.0 547.3 L1003.7 547.9 L1003.4 548.4 L1003.0 548.8 L1002.7 549.1 L1002.3 549.2 L1001.9 549.2 L1001.6 549.0 L1001.2 548.7 L1000.9 548.2 L1000.6 547.6 L1000.3 546.9 L1000.1 546.1 L999.9 545.2" fill="none" stroke="#333" stroke-width="0.9" stroke-linejoin="round" stroke-linecap="round"/>
<line x1="996.0" y1="541.0" x2="1012.0" y2="541.0" stroke="#444" stroke-width="0.8" />
<path d="M994.6 541.0 L997.0 539.9 L997.0 542.1Z" fill="#222" stroke="#222" stroke-width="0.4"/>
<circle cx="1003.5" cy="557.7" r="5.3" fill="#fff" stroke="#333" stroke-width="0.8"/><text x="1003.5" y="561.1" font-size="9.5" font-weight="normal" stroke="#111" stroke-width="0.35" text-anchor="middle" >4</text>
</svg>
</body></html>
